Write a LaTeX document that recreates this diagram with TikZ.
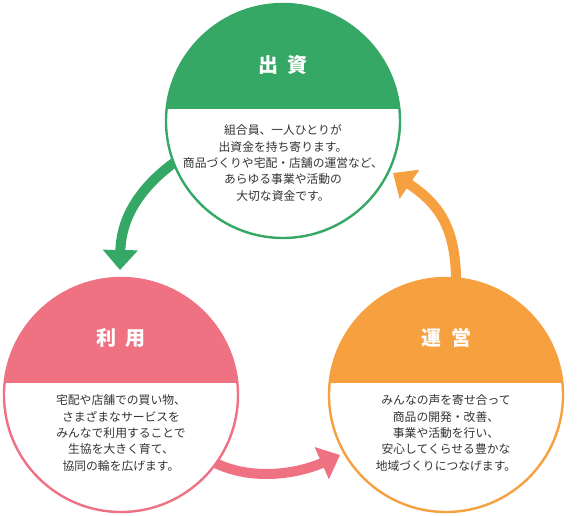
\documentclass[tikz,border=0pt]{standalone}
\usepackage{fontspec}
\newfontfamily\jp{Noto Sans CJK JP}
\usetikzlibrary{arrows.meta,backgrounds}
\definecolor{cgreen}{HTML}{35A865}
\definecolor{cpink}{HTML}{EF7283}
\definecolor{corange}{HTML}{F6A03F}
\definecolor{ctext}{HTML}{333333}

\begin{document}
\begin{tikzpicture}[x=1pt, y=-1pt,
  disc/.style={circle, draw=#1, fill=white, line width=2.4pt,
               minimum size=234pt, inner sep=0pt,
               path picture={\fill[#1] ([yshift=12pt]path picture bounding box.west)
                             rectangle (path picture bounding box.north east);}},
  title/.style={font=\jp\bfseries\fontsize{20}{22}\selectfont, text=white},
  body/.style={font=\jp\fontsize{11.8}{16.3}\selectfont, text=ctext, align=center},
  flow/.style={line width=10pt, draw=#1, -{Triangle[length=20pt,width=34pt]},
               shorten <=-12pt}
]
\useasboundingbox (0,0) rectangle (586,515);

\node[disc=cgreen]  (shusshi) at (283,121) {};
\node[disc=cpink]   (riyou)   at (121,395) {};
\node[disc=corange] (unei)    at (446,395) {};

\node[title] (shusshiT) at ([yshift=56pt]shusshi.center) {出\hspace{9pt}資};
\node[title] (riyouT)   at ([yshift=57pt]riyou.center)   {利\hspace{9pt}用};
\node[title] (uneiT)    at ([yshift=57pt]unei.center)    {運\hspace{10pt}営};

\node[body] (shusshiB) at ([yshift=-42pt]shusshi.center)
  {組合員、一人ひとりが\\出資金を持ち寄ります。\\商品づくりや宅配・店舗の運営など、\\あらゆる事業や活動の\\大切な資金です。};
\node[body] (riyouB) at ([yshift=-38pt]riyou.center)
  {宅配や店舗での買い物、\\さまざまなサービスを\\みんなで利用することで\\生協を大きく育て、\\協同の輪を広げます。};
\node[body] (uneiB) at ([yshift=-38pt]unei.center)
  {みんなの声を寄せ合って\\商品の開発・改善、\\事業や活動を行い、\\安心してくらせる豊かな\\地域づくりにつなげます。};

\begin{scope}[on background layer]
\draw[flow=cgreen]  (shusshi.201) .. controls (140,185) and (121,218) .. (120,270);
\draw[flow=cpink]   (riyou.-36) .. controls (245,482) and (295,475) .. (340,455);
\draw[flow=corange] (unei.85) .. controls (457,228) and (440,205) .. (393,173);
\end{scope}
\end{tikzpicture}
\end{document}
